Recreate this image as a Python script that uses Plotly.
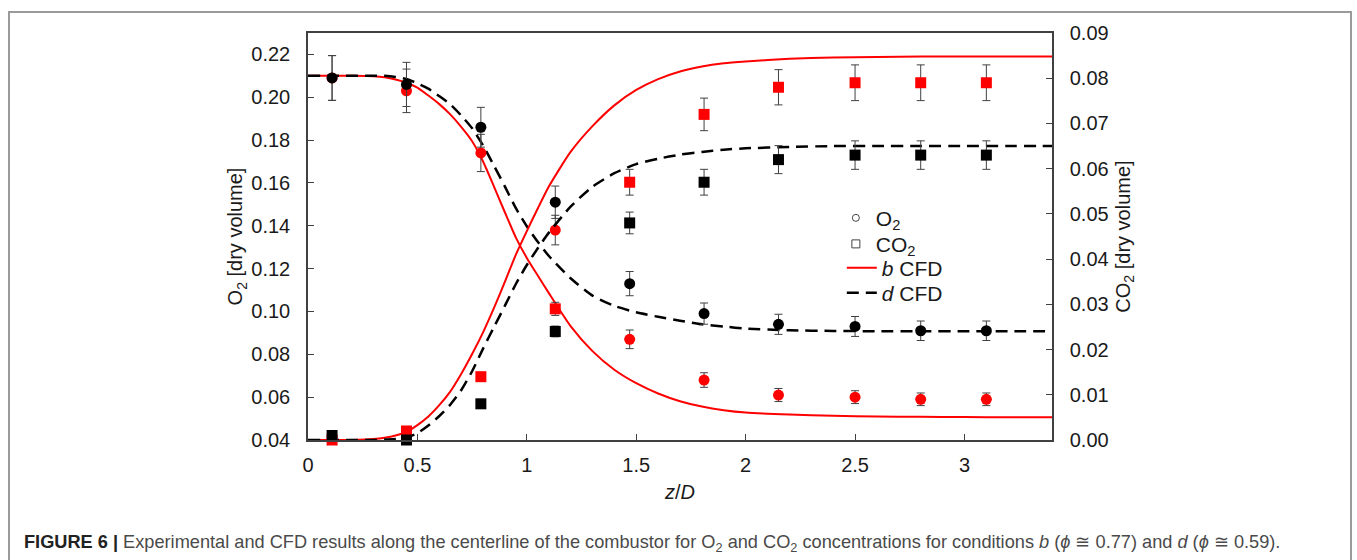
import plotly.graph_objects as go

# measured positions along the centerline (z/D)
z_exp = [0.11, 0.45, 0.79, 1.13, 1.47, 1.81, 2.15, 2.5, 2.8, 3.1]

# experimental O2 (left axis) and CO2 (right axis), dry volume fraction
o2_b = [0.209, 0.203, 0.174, 0.138, 0.087, 0.068, 0.061, 0.060, 0.059, 0.059]
o2_d = [0.209, 0.206, 0.186, 0.151, 0.113, 0.099, 0.094, 0.093, 0.091, 0.091]
co2_b = [0.000, 0.002, 0.014, 0.029, 0.057, 0.072, 0.078, 0.079, 0.079, 0.079]
co2_d = [0.001, 0.000, 0.008, 0.024, 0.048, 0.057, 0.062, 0.063, 0.063, 0.063]

# CFD profiles
z_cfd = [0, 0.1, 0.2, 0.3, 0.35, 0.4, 0.45, 0.5, 0.55, 0.6, 0.65, 0.7, 0.75, 0.8,
         0.85, 0.9, 0.95, 1.0, 1.05, 1.1, 1.2, 1.3, 1.4, 1.5, 1.6, 1.7, 1.8, 1.9,
         2.0, 2.2, 2.4, 2.6, 2.8, 3.0, 3.2, 3.4]
o2_b_cfd = [0.210, 0.210, 0.210, 0.2098, 0.2093, 0.2083, 0.2068, 0.2045, 0.2008, 0.1968,
            0.1920, 0.1862, 0.1795, 0.1700, 0.1583, 0.1462, 0.1345, 0.1250, 0.1168, 0.1087,
            0.0932, 0.0815, 0.0728, 0.0665, 0.0617, 0.0581, 0.0556, 0.0539, 0.0528, 0.0519,
            0.0513, 0.0510, 0.0508, 0.0507, 0.0506, 0.0506]
o2_d_cfd = [0.210, 0.210, 0.210, 0.210, 0.210, 0.2095, 0.2085, 0.2065, 0.2040, 0.2005,
            0.1967, 0.1915, 0.1855, 0.1775, 0.1680, 0.1583, 0.1482, 0.1398, 0.1325, 0.1260,
            0.1155, 0.1074, 0.1026, 0.0996, 0.0975, 0.0957, 0.0940, 0.0930, 0.0920, 0.0912,
            0.0909, 0.0908, 0.0908, 0.0908, 0.0908, 0.0908]
co2_b_cfd = [0.0, 0.0, 0.0, 0.0002, 0.0005, 0.0010, 0.0018, 0.0033, 0.0052, 0.0077,
             0.0107, 0.0146, 0.0190, 0.0238, 0.0292, 0.0350, 0.0410, 0.0462, 0.0512, 0.0560,
             0.0637, 0.0694, 0.0740, 0.0774, 0.0798, 0.0815, 0.0826, 0.0833, 0.0837, 0.0843,
             0.0846, 0.0847, 0.0848, 0.0848, 0.0848, 0.0848]
co2_d_cfd = [0.0, 0.0, 0.0, 0.0, 0.0001, 0.0002, 0.0005, 0.0015, 0.0032, 0.0053,
             0.0078, 0.0110, 0.0152, 0.0202, 0.0250, 0.0297, 0.0345, 0.0387, 0.0424, 0.0458,
             0.0516, 0.0560, 0.0590, 0.0610, 0.0622, 0.0631, 0.0637, 0.0642, 0.0645, 0.0648,
             0.0650, 0.0650, 0.0650, 0.0650, 0.0650, 0.0650]

legend_labels = ["O<sub>2</sub>", "CO<sub>2</sub>", "<i>b</i> CFD", "<i>d</i> CFD"]

FONT = "Liberation Sans, Arial, sans-serif"
AXC = "#404040"
err = dict(type="percent", value=5, color=AXC, thickness=1, width=4)
DASH = "12px,7px"
red_line = dict(color="red", width=2, shape="spline", smoothing=0.6)
blk_line = dict(color="black", width=2.5, dash=DASH, shape="spline", smoothing=0.6)

fig = go.Figure()

# CFD lines first, so the markers sit on top
fig.add_trace(go.Scatter(x=z_cfd, y=o2_b_cfd, mode="lines", line=red_line,
                         showlegend=False, hoverinfo="skip"))
fig.add_trace(go.Scatter(x=z_cfd, y=co2_b_cfd, yaxis="y2", mode="lines", line=red_line,
                         showlegend=False, hoverinfo="skip"))
fig.add_trace(go.Scatter(x=z_cfd, y=o2_d_cfd, mode="lines", line=blk_line,
                         showlegend=False, hoverinfo="skip"))
fig.add_trace(go.Scatter(x=z_cfd, y=co2_d_cfd, yaxis="y2", mode="lines", line=blk_line,
                         showlegend=False, hoverinfo="skip"))

# experiments: red = condition b, black = condition d
for ys, axis, sym, col in [(o2_b, "y", "circle", "red"), (co2_b, "y2", "square", "red"),
                           (o2_d, "y", "circle", "black"), (co2_d, "y2", "square", "black")]:
    fig.add_trace(go.Scatter(x=z_exp, y=ys, yaxis=axis, mode="markers",
                             marker=dict(symbol=sym, size=11, color=col, line=dict(width=0)),
                             error_y=err, cliponaxis=False, showlegend=False))

# legend-only entries, one small legend each so the rows can be spaced like the original
fig.add_trace(go.Scatter(x=[None], y=[None], mode="markers", name=legend_labels[0], legend="legend",
                         marker=dict(symbol="circle-open", size=7, color="#444", line=dict(width=1))))
fig.add_trace(go.Scatter(x=[None], y=[None], mode="markers", name=legend_labels[1], legend="legend2",
                         marker=dict(symbol="square-open", size=8, color="#444", line=dict(width=1))))
fig.add_trace(go.Scatter(x=[None], y=[None], mode="lines", name=legend_labels[2], legend="legend3",
                         line=dict(color="red", width=2)))
fig.add_trace(go.Scatter(x=[None], y=[None], mode="lines", name=legend_labels[3], legend="legend4",
                         line=dict(color="black", width=2.5, dash=DASH)))

tickfont = dict(family=FONT, size=20, color="#1a1a1a")


def leg(x, y):
    return dict(x=x, y=y, xanchor="left", yanchor="middle", bgcolor="rgba(0,0,0,0)",
                font=dict(family=FONT, size=21, color="#1a1a1a"))


fig.update_layout(
    width=1357, height=560,
    margin=dict(l=308, r=305, t=33, b=120),
    paper_bgcolor="white", plot_bgcolor="white",
    font=dict(family=FONT, size=20, color="#1a1a1a"),
    xaxis=dict(range=[0, 3.4], dtick=0.5, tick0=0, ticks="inside", ticklen=6, tickcolor=AXC,
               showline=True, linecolor=AXC, linewidth=1.5, mirror=True, showgrid=False,
               zeroline=False, tickfont=tickfont, ticklabelstandoff=6,
               title=dict(text="<i>z</i>/<i>D</i>", font=tickfont, standoff=10)),
    yaxis=dict(range=[0.04, 0.23], dtick=0.02, tick0=0.04, tickformat=".2f", ticks="inside",
               ticklen=6, tickcolor=AXC, showline=True, linecolor=AXC, linewidth=1.5,
               showgrid=False, zeroline=False, tickfont=tickfont, ticklabelstandoff=12,
               title=dict(text="O<sub>2</sub> [dry volume]", font=tickfont, standoff=3)),
    yaxis2=dict(range=[0, 0.09], dtick=0.01, tick0=0, tickformat=".2f", ticks="inside",
                ticklen=6, tickcolor=AXC, showline=True, linecolor=AXC, linewidth=1.5,
                showgrid=False, zeroline=False, overlaying="y", side="right",
                tickfont=tickfont, ticklabelstandoff=12,
                title=dict(text="CO<sub>2</sub> [dry volume]", font=tickfont, standoff=8)),
    legend=leg(0.7095, 0.545),
    legend2=leg(0.7095, 0.481),
    legend3=leg(0.7175, 0.4226),
    legend4=leg(0.7175, 0.3612),
    shapes=[dict(type="rect", xref="paper", yref="paper", x0=-0.4019, x1=1.4019,
                 y0=-0.40, y1=1.0516, line=dict(color="#9a9a9a", width=2), layer="below")],
    annotations=[dict(xref="paper", yref="paper", x=-0.3844, y=-0.2555, xanchor="left",
                      yanchor="middle", showarrow=False, align="left",
                      font=dict(family=FONT, size=18.2, color="#4a4a4a"),
                      text="<b><span style='color:#222'>FIGURE 6 |</span></b> Experimental and CFD "
                           "results along the centerline of the combustor for O<sub>2</sub> and "
                           "CO<sub>2</sub> concentrations for conditions <i>b</i> (<i>ϕ</i> ≅ 0.77) "
                           "and <i>d</i> (<i>ϕ</i> ≅ 0.59).")],
)

# drop the page's default body margin so the figure sits at the window origin
fig.write_html("out.html", config={"displayModeBar": False},
               post_script="document.body.style.margin='0';")
